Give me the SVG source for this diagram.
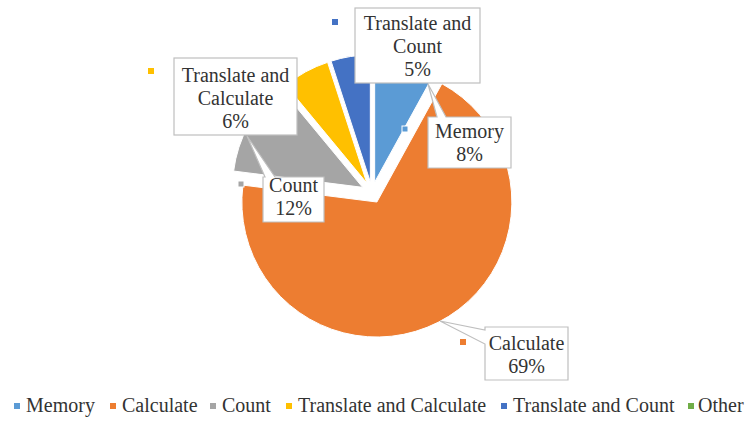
<svg xmlns="http://www.w3.org/2000/svg" width="747" height="421" viewBox="0 0 747 421">
<style>
text{font-family:'Liberation Serif','DejaVu Serif',serif;font-size:20px;fill:#333}
.c{text-anchor:middle}
.box{fill:#fff;stroke:#bfbfbf;stroke-width:1.2}
.sl{stroke:#fff;stroke-width:1}
</style>
<rect width="747" height="421" fill="#fff"/>
<g id="pie">
<path id="slice-memory" class="sl" fill="#5B9BD5" d="M374.66,182.14 L374.66,55.14 A127,127 0 0 1 435.85,70.85 Z"/>
<path id="slice-calculate" class="sl" fill="#ED7D31" d="M376.86,202.03 L441.90,83.73 A135,135 0 1 1 242.93,185.11 Z"/>
<path id="slice-count" class="sl" fill="#A5A5A5" d="M362.62,187.35 L233.63,171.05 A130,130 0 0 1 279.69,87.20 Z"/>
<path id="slice-tcalc" class="sl" fill="#FFC000" d="M366.85,183.12 L285.90,85.27 A127,127 0 0 1 327.60,62.34 Z"/>
<path id="slice-tcount" class="sl" fill="#4472C4" d="M370.33,181.93 L331.08,61.15 A127,127 0 0 1 370.33,54.93 Z"/>
</g>
<g id="connectors"/>
<g id="label-tcount" font-family="Liberation Serif, serif">
<rect class="box" x="355" y="8" width="125" height="75"/>
<rect x="332" y="19" width="6" height="6" fill="#4472C4"/>
<text class="c" x="417.5" y="30">Translate and</text>
<text class="c" x="417.5" y="53">Count</text>
<text class="c" x="417.5" y="76">5%</text>
</g>
<g id="label-tcalc" font-family="Liberation Serif, serif">
<rect class="box" x="174" y="58" width="123" height="77"/>
<rect x="148" y="68" width="6" height="6" fill="#FFC000"/>
<text class="c" x="235.5" y="82">Translate and</text>
<text class="c" x="235.5" y="105">Calculate</text>
<text class="c" x="235.5" y="128">6%</text>
</g>
<g id="label-memory" font-family="Liberation Serif, serif">
<path class="box" d="M428,117 L437,117 L428,84 L446,117 L511,117 L511,168 L428,168 Z"/>
<rect x="402" y="126" width="6" height="6" fill="#5B9BD5" stroke="#fff" stroke-width="1"/>
<text class="c" x="469.5" y="138">Memory</text>
<text class="c" x="469.5" y="161">8%</text>
</g>
<g id="label-count" font-family="Liberation Serif, serif">
<path class="box" d="M263,177 L265,177 L247,136 L275,177 L324,177 L324,222 L263,222 Z"/>
<rect x="238" y="181" width="6" height="6" fill="#A5A5A5" stroke="#fff" stroke-width="1"/>
<text class="c" x="293.5" y="192">Count</text>
<text class="c" x="293.5" y="215">12%</text>
</g>
<g id="label-calculate" font-family="Liberation Serif, serif">
<path class="box" d="M485,327 L568,327 L568,380 L485,380 L485,344 L440,321 L485,330 Z"/>
<rect x="460" y="339" width="6" height="6" fill="#ED7D31"/>
<text class="c" x="526.5" y="350">Calculate</text>
<text class="c" x="526.5" y="373">69%</text>
</g>
<g id="legend" font-family="Liberation Serif, serif">
<rect x="14" y="403" width="6" height="6" fill="#5B9BD5"/>
<text x="26" y="412">Memory</text>
<rect x="110" y="403" width="6" height="6" fill="#ED7D31"/>
<text x="122" y="412">Calculate</text>
<rect x="210" y="403" width="6" height="6" fill="#A5A5A5"/>
<text x="222" y="412">Count</text>
<rect x="286" y="403" width="6" height="6" fill="#FFC000"/>
<text x="298" y="412">Translate and Calculate</text>
<rect x="501" y="403" width="6" height="6" fill="#4472C4"/>
<text x="513" y="412">Translate and Count</text>
<rect x="688" y="403" width="6" height="6" fill="#70AD47"/>
<text x="698" y="412">Other</text>
</g>
</svg>
